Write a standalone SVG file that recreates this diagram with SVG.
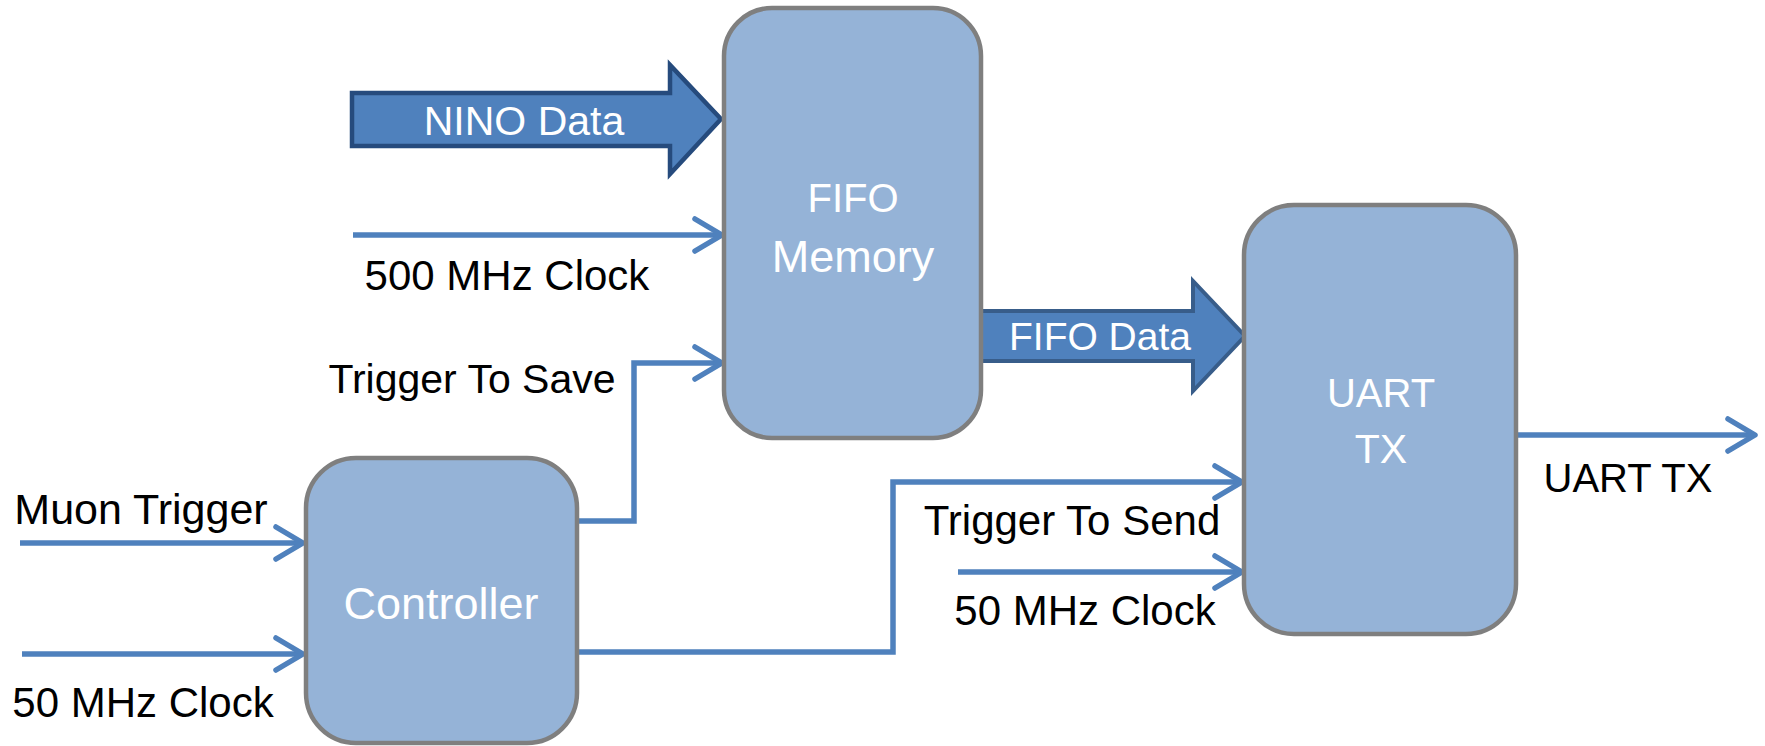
<svg xmlns="http://www.w3.org/2000/svg" width="1765" height="746" viewBox="0 0 1765 746">
<style>
.box{fill:#95B3D7;stroke:#7F7F7F;stroke-width:4.5}
.wt{fill:#FFFFFF;font-family:"Liberation Sans",Arial,sans-serif;font-size:42px;text-anchor:middle}
.lbl{fill:#000000;font-family:"Liberation Sans",Arial,sans-serif;font-size:42px;text-anchor:middle}
.ln{fill:none;stroke:#4F81BD;stroke-width:5.5;stroke-linejoin:miter;marker-end:url(#ah)}
.blk{fill:#4F81BD;stroke-linejoin:miter}
</style>
<defs>
<marker id="ah" markerUnits="userSpaceOnUse" markerWidth="44" markerHeight="44" viewBox="-36 -22 44 44" refX="0" refY="0" orient="auto" overflow="visible">
<path d="M-27,-16 L0,0 L-27,16" fill="none" stroke="#4F81BD" stroke-width="5.5" stroke-linecap="round" stroke-linejoin="round"/>
</marker>
</defs>
<rect width="1765" height="746" fill="#FFFFFF"/>
<g id="connectors">
<g id="nino-data">
<polygon class="blk" points="352,93 670,93 670,65 721,119 670,174 670,146 352,146" stroke="#264B7D" stroke-width="4.5"/>
<text class="wt" x="524" y="135" style="font-size:41px">NINO Data</text>
</g>
<g id="fifo-data">
<polygon class="blk" points="978,311 1193,311 1193,281 1245,336 1193,391 1193,361 978,361" stroke="#385D8A" stroke-width="4"/>
<text class="wt" x="1100" y="350" style="font-size:39px">FIFO Data</text>
</g>
<path class="ln" d="M353,235 H722"/>
<path class="ln" d="M577,521 H634 V363 H722"/>
<path class="ln" d="M20,543 H303"/>
<path class="ln" d="M22,654 H303"/>
<path class="ln" d="M577,652 H893 V482 H1242"/>
<path class="ln" d="M958,572 H1242"/>
<path class="ln" d="M1517,435 H1755"/>
<text class="lbl" x="507" y="290">500 MHz Clock</text>
<text class="lbl" x="472" y="393" style="font-size:41px">Trigger To Save</text>
<text class="lbl" x="141" y="524" style="font-size:43px">Muon Trigger</text>
<text class="lbl" x="143" y="717">50 MHz Clock</text>
<text class="lbl" x="1072" y="535">Trigger To Send</text>
<text class="lbl" x="1085" y="625">50 MHz Clock</text>
<text class="lbl" x="1628" y="492" style="font-size:40px">UART TX</text>
</g>
<g id="fifo">
<rect class="box" x="724" y="8" width="257" height="430" rx="48" ry="48"/>
<text class="wt" x="853" y="212" style="font-size:40px">FIFO</text>
<text class="wt" x="853" y="272" style="font-size:45px">Memory</text>
</g>
<g id="uart">
<rect class="box" x="1244" y="205" width="272" height="429" rx="50" ry="50"/>
<text class="wt" x="1381" y="407" style="font-size:40px">UART</text>
<text class="wt" x="1381" y="463" style="font-size:41px">TX</text>
</g>
<g id="controller">
<rect class="box" x="306" y="458" width="271" height="285" rx="50" ry="50"/>
<text class="wt" x="441" y="619" style="font-size:45px">Controller</text>
</g>
</svg>
